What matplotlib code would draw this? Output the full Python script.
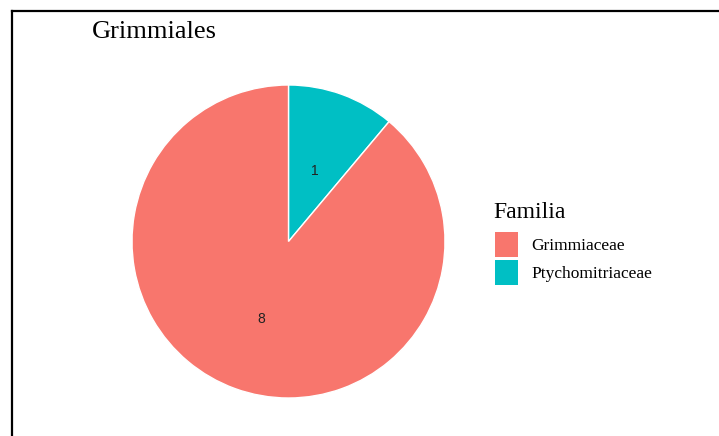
import matplotlib.pyplot as plt
from matplotlib.lines import Line2D
from matplotlib.patches import Patch
import numpy as np

# data
familias = ["Grimmiaceae", "Ptychomitriaceae"]
conteos = [8, 1]
colores = ["#F8766D", "#00BFC4"]
titulo = "Grimmiales"
titulo_leyenda = "Familia"

W, H = 719, 436
fig = plt.figure(figsize=(W / 100, H / 100), dpi=100)
fig.patch.set_facecolor("white")

# pie axes, pixel box
cx, cy, r = 288.5, 241.5, 156.5
ax = fig.add_axes([(cx - r) / W, (H - cy - r) / H, 2 * r / W, 2 * r / H])

# teal wedge goes clockwise from 12 o'clock, like the ggplot coord_polar
vals = conteos[::-1]
cols = colores[::-1]
wedges, _ = ax.pie(vals, colors=cols, startangle=90, counterclock=False,
                   wedgeprops=dict(edgecolor="white", linewidth=1.0))
ax.set_xlim(-1, 1)
ax.set_ylim(-1, 1)
ax.set_aspect("equal")
ax.axis("off")

# count labels at half radius, mid angle of each wedge
start = 90.0
total = sum(vals)
for v in vals:
    span = 360.0 * v / total
    mid = np.deg2rad(start - span / 2)
    ax.annotate(str(v), (0.5 * np.cos(mid), 0.5 * np.sin(mid)),
                xytext=(0, -2.5), textcoords="offset points",
                ha="center", va="center", fontsize=10,
                family="Liberation Sans", color="#222222")
    start -= span

# title
fig.text(92 / W, 1 - 38 / H, titulo, fontsize=19, family="Liberation Serif",
         ha="left", va="baseline")

# legend title + entries
fig.text(493 / W, 1 - 218 / H, titulo_leyenda, fontsize=17,
         family="Liberation Serif", ha="left", va="baseline")
handles = [Patch(facecolor=c, edgecolor="none") for c in colores]
leg = fig.legend(handles, familias, loc="upper left",
                 bbox_to_anchor=(495 / W, 1 - 232 / H), frameon=False,
                 prop=dict(family="Liberation Serif", size=12.5),
                 handlelength=1.35, handleheight=1.85, handletextpad=0.75,
                 labelspacing=0.18, borderaxespad=0, borderpad=0)

# border lines (top and left)
fig.add_artist(Line2D([12 / W, 1], [1 - 11 / H, 1 - 11 / H], color="black",
                      linewidth=1.6, transform=fig.transFigure))
fig.add_artist(Line2D([12 / W, 12 / W], [0, 1 - 11 / H], color="black",
                      linewidth=1.6, transform=fig.transFigure))

fig.savefig("out.png", dpi=100)
